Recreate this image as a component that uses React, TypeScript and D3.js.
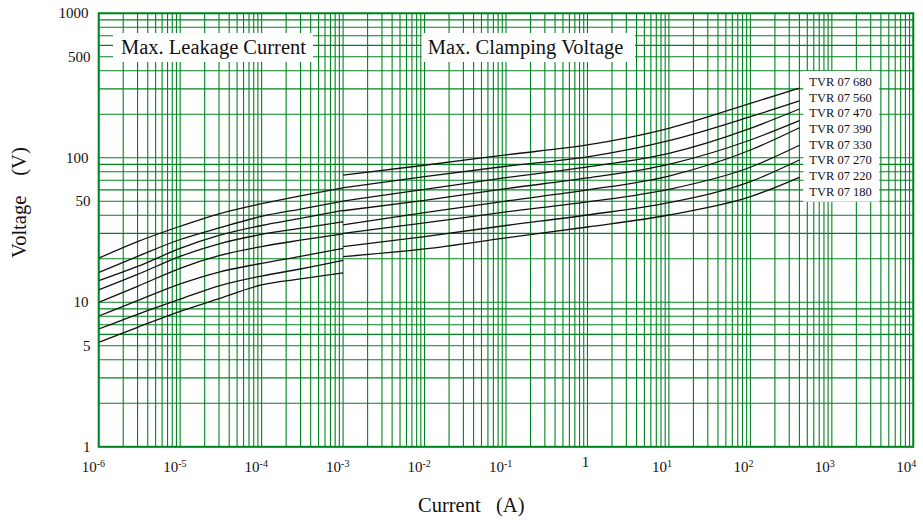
import React from "react";
import * as d3 from "d3";

const W = 923;
const H = 521;

const types = ["680", "560", "470", "390", "330", "270", "220", "180"];

// Leakage-current region (A -> V)
const leakCurrent = [1e-6, 3e-6, 1e-5, 3e-5, 1e-4, 3e-4, 1e-3];
const leak680 = [20.2, 26.3, 33.6, 41.0, 48.1, 54.6, 62.0];
const leak560 = [16.1, 20.8, 27.2, 32.7, 39.3, 44.2, 50.1];
const leak470 = [14.1, 17.7, 23.6, 29.0, 34.0, 38.1, 43.3];
const leak390 = [12.2, 15.6, 20.8, 25.4, 29.5, 32.5, 36.1];
const leak330 = [10.0, 12.9, 17.2, 21.0, 24.3, 26.9, 29.8];
const leak270 = [8.04, 10.26, 13.4, 16.2, 18.6, 20.8, 23.6];
const leak220 = [6.53, 8.26, 10.5, 13.0, 15.2, 17.0, 19.5];
const leak180 = [5.29, 6.71, 8.66, 10.6, 13.2, 14.5, 16.0];

// Clamping-voltage region (A -> V)
const clampCurrent = [1e-3, 1e-2, 1e-1, 1, 10, 100, 400];
const clamp680 = [76.0, 88.8, 104.9, 122.7, 160, 238, 303];
const clamp560 = [62.1, 74.1, 87.4, 101.4, 131.3, 192.4, 247.3];
const clamp470 = [50.2, 60.5, 72.8, 86.4, 107.4, 160, 217.7];
const clamp390 = [43.0, 50.8, 61.2, 72.5, 90.2, 132.8, 180.6];
const clamp330 = [34.3, 41.7, 50.2, 59.9, 74.8, 113.2, 161.5];
const clamp270 = [30.0, 35.4, 42.2, 49.5, 60.5, 86.0, 122.1];
const clamp220 = [24.3, 28.5, 34.0, 40.2, 48.9, 68.4, 96.5];
const clamp180 = [20.7, 23.4, 27.9, 33.2, 40.2, 53.8, 73.3];

const leakage = [leak680, leak560, leak470, leak390, leak330, leak270, leak220, leak180];
const clamping = [clamp680, clamp560, clamp470, clamp390, clamp330, clamp270, clamp220, clamp180];

const xExponents = [-6, -5, -4, -3, -2, -1, 0, 1, 2, 3, 4];
const yTickValues = [1, 5, 10, 50, 100, 500, 1000];

const GREEN = "#008420";
const FONT = "'Liberation Serif', 'Times New Roman', serif";

export default function App() {
  const x = d3.scaleLog().domain([1e-6, 1e4]).range([98.7, 913.3]);
  const y = d3.scaleLog().domain([1, 1000]).range([446.8, 13.3]);

  const line = d3
    .line<[number, number]>()
    .x((d) => x(d[0]))
    .y((d) => y(d[1]))
    .curve(d3.curveMonotoneX);

  const vGrid: number[] = [];
  for (let n = -6; n <= 3; n++) for (let k = 1; k <= 9; k++) vGrid.push(k * Math.pow(10, n));
  vGrid.push(1e4);
  const hGrid: number[] = [];
  for (let n = 0; n <= 2; n++) for (let k = 1; k <= 9; k++) hGrid.push(k * Math.pow(10, n));
  hGrid.push(1000);

  const [x0, x1] = x.range();
  const [y0, y1] = y.range();

  return (
    <svg
      width={W}
      height={H}
      style={{ position: "absolute", left: 0, top: 0, background: "#fff" }}
      fontFamily={FONT}
    >
      <rect x={0} y={0} width={W} height={H} fill="#fff" />
      {/* grid */}
      <g stroke={GREEN} strokeWidth={1.1}>
        {vGrid.map((v, i) => (
          <line key={"v" + i} x1={x(v)} x2={x(v)} y1={y1} y2={y0} />
        ))}
        {hGrid.map((v, i) => (
          <line key={"h" + i} x1={x0} x2={x1} y1={y(v)} y2={y(v)} />
        ))}
      </g>

      {/* white label boxes */}
      <rect x={113} y={33} width={200} height={29} fill="#fff" />
      <rect x={421.7} y={33} width={213.3} height={29} fill="#fff" />
      <rect x={803.3} y={71} width={76} height={130.7} fill="#fff" />

      <text x={121} y={54} fontSize={20.5} fill="#111">Max. Leakage Current</text>
      <text x={427.7} y={54} fontSize={20.5} fill="#111">Max. Clamping Voltage</text>

      {/* curves */}
      <g fill="none" stroke="#111" strokeWidth={1.3}>
        {types.map((t, i) => (
          <path
            key={"l" + t}
            d={line(leakCurrent.map((c, j) => [c, leakage[i][j]] as [number, number])) || ""}
          />
        ))}
        {types.map((t, i) => (
          <path
            key={"c" + t}
            d={line(clampCurrent.map((c, j) => [c, clamping[i][j]] as [number, number])) || ""}
          />
        ))}
      </g>

      {/* legend labels */}
      {types.map((t, i) => (
        <text key={"t" + t} x={809.3} y={86 + i * 15.67} fontSize={12.5} fill="#111">
          {"TVR 07 " + t}
        </text>
      ))}

      {/* frame */}
      <rect
        x={x0}
        y={y1}
        width={x1 - x0}
        height={y0 - y1}
        fill="none"
        stroke={GREEN}
        strokeWidth={2}
      />

      {/* y tick labels */}
      {yTickValues.map((v) => {
        const isPow = Math.abs(Math.log10(v) - Math.round(Math.log10(v))) < 1e-9 && v !== 1;
        return (
          <text
            key={"y" + v}
            x={isPow ? 88.5 : 90.5}
            y={y(v) + 5}
            fontSize={15}
            textAnchor="end"
            fill="#111"
          >
            {String(v)}
          </text>
        );
      })}

      {/* x tick labels */}
      {xExponents.map((e) => {
        const gx = x(Math.pow(10, e));
        if (e === 0) {
          return (
            <text key={"x" + e} x={gx - 2} y={466.5} fontSize={15} textAnchor="middle" fill="#111">
              1
            </text>
          );
        }
        return (
          <text key={"x" + e} x={gx - 17} y={472} fontSize={15} fill="#111">
            10
            <tspan fontSize={10} dy={-5.5}>
              {String(e)}
            </tspan>
          </text>
        );
      })}

      {/* axis titles */}
      <text x={418} y={511.5} fontSize={20.5} fill="#111">
        Current
        <tspan dx={15.4}>(A)</tspan>
      </text>
      <text transform="translate(26,258) rotate(-90)" x={0} y={0} fontSize={20.5} fill="#111">
        Voltage
        <tspan dx={20}>(V)</tspan>
      </text>
    </svg>
  );
}
